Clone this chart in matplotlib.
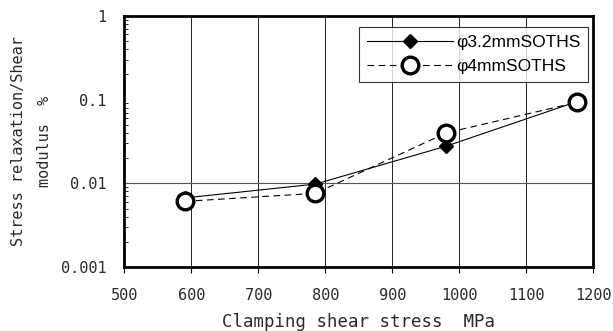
import matplotlib
matplotlib.use('Agg')
import matplotlib.pyplot as plt
from matplotlib.ticker import FixedLocator, FixedFormatter, LogLocator, NullFormatter

# data
stress = [590, 785, 980, 1176]
relax_32 = [0.0067, 0.0098, 0.0278, 0.095]
relax_4 = [0.0061, 0.0076, 0.040, 0.093]
labels = ['φ3.2mmSOTHS', 'φ4mmSOTHS']
x_ticks = [500, 600, 700, 800, 900, 1000, 1100, 1200]
y_ticks = [0.001, 0.01, 0.1, 1]
y_tick_labels = ['0.001', '0.01', '0.1', '1']

mono = 'DejaVu Sans Mono'
txt = '#2a2a2a'

fig = plt.figure(figsize=(6.13, 3.31), dpi=100)
ax = fig.add_axes([0.203, 0.193, 0.765, 0.759])

ax.set_yscale('log')
ax.set_xlim(500, 1200)
ax.set_ylim(0.001, 1)

for x in x_ticks[1:-1]:
    ax.axvline(x, color='black', lw=0.6, zorder=1)
ax.axhline(0.01, color='#555555', lw=0.8, zorder=1)

ax.plot(stress, relax_32, '-', color='black', lw=0.8, marker='D', ms=7,
        mfc='black', mec='black', label=labels[0], zorder=3)
ax.plot(stress, relax_4, '--', dashes=(6, 4), color='black', lw=0.8, marker='o', ms=12,
        mfc='white', mec='black', mew=2.4, label=labels[1], zorder=4)

ax.xaxis.set_major_locator(FixedLocator(x_ticks))
ax.yaxis.set_major_locator(FixedLocator(y_ticks))
ax.yaxis.set_major_formatter(FixedFormatter(y_tick_labels))
ax.yaxis.set_minor_locator(LogLocator(base=10, subs=range(2, 10)))
ax.yaxis.set_minor_formatter(NullFormatter())

ax.tick_params(axis='x', direction='out', length=4, width=0.8, labelsize=11, pad=11)
ax.tick_params(axis='y', which='major', direction='in', length=0, labelsize=11, pad=13)
ax.tick_params(axis='y', which='minor', direction='in', length=3, width=0.6)
for lab in ax.get_xticklabels() + ax.get_yticklabels():
    lab.set_family(mono)
    lab.set_color(txt)

for s in ax.spines.values():
    s.set_linewidth(2)

ax.set_xlabel('Clamping shear stress  MPa', family=mono, fontsize=12.5,
              color=txt, va='center')
ax.xaxis.set_label_coords(0.5, -0.22)
ax.set_ylabel('Stress relaxation/Shear\nmodulus  %', family=mono, fontsize=11,
              color=txt, linespacing=1.9, va='center', ha='center')
ax.yaxis.set_label_coords(-0.198, 0.5)

leg = ax.legend(loc='upper right', bbox_to_anchor=(0.989, 0.956), frameon=True,
                fancybox=False, edgecolor='black', handlelength=5.0,
                prop={'family': 'Liberation Sans', 'size': 12.5},
                borderpad=0.45, labelspacing=0.5, handletextpad=0.15,
                borderaxespad=0.0)
leg.get_frame().set_linewidth(0.8)
leg.set_zorder(5)

fig.savefig('out.png', dpi=100)
